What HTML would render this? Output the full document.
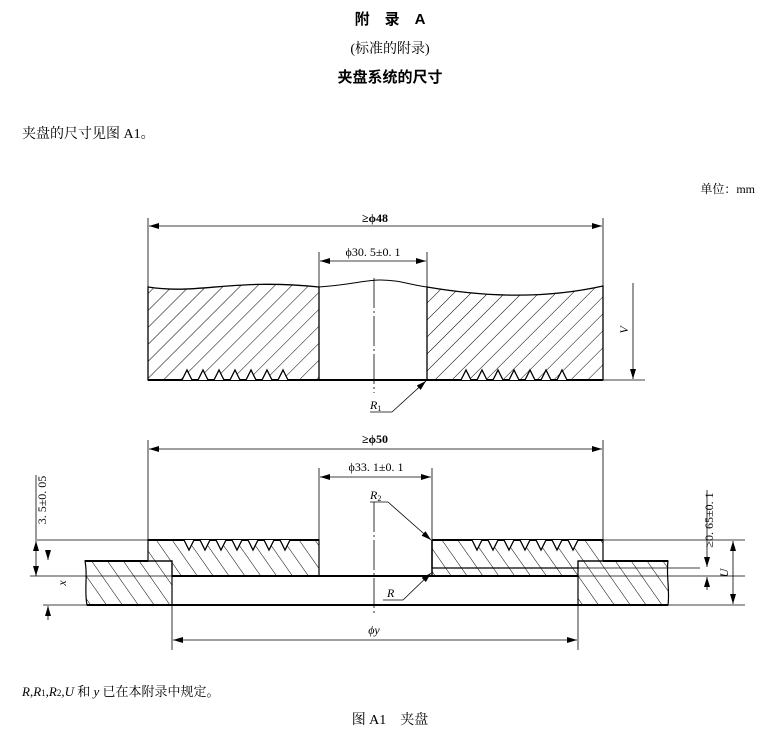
<!DOCTYPE html>
<html><head><meta charset="utf-8"><style>
body{margin:0;background:#fff;}
svg{display:block;}
.b{font-weight:bold}
</style></head><body>
<svg width="780" height="737" viewBox="0 0 780 737" xmlns="http://www.w3.org/2000/svg">
<defs>
<pattern id="h1" patternUnits="userSpaceOnUse" width="12" height="12" patternTransform="rotate(45)">
<line x1="0" y1="0" x2="0" y2="12" stroke="#000" stroke-width="1"/></pattern>
<pattern id="h2" patternUnits="userSpaceOnUse" width="13" height="13" patternTransform="rotate(-35)">
<line x1="0" y1="0" x2="0" y2="13" stroke="#000" stroke-width="1"/></pattern>
<marker id="a" viewBox="0 0 10 6" refX="10" refY="3" markerWidth="10" markerHeight="6" orient="auto-start-reverse" markerUnits="userSpaceOnUse"><path d="M0,0 L10,3 L0,6 z" fill="#000"/></marker>
</defs>
<g font-family="Liberation Serif,Noto Serif CJK SC,serif" fill="#000">
<text x="390" y="24" font-size="15" text-anchor="middle" class="b" font-family="Liberation Sans,Noto Sans CJK SC,sans-serif">附　录　A</text>
<text x="390" y="53" font-size="14" text-anchor="middle">(标准的附录)</text>
<text x="390" y="82" font-size="15" text-anchor="middle" class="b" font-family="Liberation Sans,Noto Sans CJK SC,sans-serif">夹盘系统的尺寸</text>
<text x="22" y="138" font-size="14">夹盘的尺寸见图 A1。</text>
<text x="755" y="193" font-size="12" text-anchor="end">单位：mm</text>
<text x="22" y="696" font-size="13"><tspan font-style="italic">R</tspan>,<tspan font-style="italic">R</tspan><tspan font-size="9">1</tspan>,<tspan font-style="italic">R</tspan><tspan font-size="9">2</tspan>,<tspan font-style="italic">U</tspan> 和 <tspan font-style="italic">y</tspan> 已在本附录中规定。</text>
<text x="390" y="724" font-size="14" text-anchor="middle">图 A1　夹盘</text>
</g>
<g stroke="#000" fill="none">
<!-- TOP FIGURE -->
<path d="M148,287 C200,295 230,278 319,287 L319,380 L148,380 Z" fill="url(#h1)" stroke-width="1.3"/>
<path d="M427,287 C480,296 540,300 603,286 L603,380 L427,380 Z" fill="url(#h1)" stroke-width="1.3"/>
<path d="M319,287 C350,285 365,280 380,280 C400,280 410,285 427,287" stroke-width="1"/>
<line x1="148" y1="380" x2="603" y2="380" stroke-width="2"/>
<line x1="603" y1="380" x2="645" y2="380" stroke-width="0.8"/>
<polyline points="182,380 187,370 192,380 198,380 203,370 208,380 214,380 219,370 224,380 230,380 235,370 240,380 246,380 251,370 256,380 262,380 267,370 272,380 278,380 283,370 288,380" fill="#fff" stroke-width="1.3"/>
<polyline points="461,380 466,370 471,380 477,380 482,370 487,380 493,380 498,370 503,380 509,380 514,370 519,380 525,380 530,370 535,380 541,380 546,370 551,380 557,380 562,370 567,380" fill="#fff" stroke-width="1.3"/>
<g stroke-width="0.8">
<line x1="148" y1="218" x2="148" y2="287"/><line x1="603" y1="218" x2="603" y2="286"/>
<line x1="149" y1="226" x2="602" y2="226" marker-start="url(#a)" marker-end="url(#a)"/>
<line x1="319" y1="252" x2="319" y2="287"/><line x1="427" y1="252" x2="427" y2="287"/>
<line x1="320" y1="261" x2="426" y2="261" marker-start="url(#a)" marker-end="url(#a)"/>
<line x1="374" y1="278" x2="374" y2="393" stroke-dasharray="30,3,2,3"/>
<line x1="633" y1="283" x2="633" y2="379" marker-end="url(#a)"/>
<line x1="370" y1="412" x2="392" y2="412"/><line x1="392" y1="412" x2="426" y2="381" marker-end="url(#a)"/>
</g>
<!-- BOTTOM FIGURE -->
<path d="M148,540 L319,540 L319,576 L172,576 L172,561 L148,561 Z" fill="url(#h2)" stroke-width="1.2"/>
<path d="M432,540 L603,540 L603,561 L578,561 L578,568 L432,568 Z" fill="url(#h2)" stroke-width="1.2"/>
<path d="M85,561 L172,561 L172,605 L87,605 C84,590 88,575 85,561 Z" fill="url(#h2)" stroke-width="1.2"/>
<path d="M578,561 L668,561 C666,575 670,590 668,605 L578,605 Z" fill="url(#h2)" stroke-width="1.2"/>
<path d="M432,568 L578,568 L578,576 L432,576 Z" fill="url(#h2)" stroke-width="1"/>
<line x1="148" y1="540" x2="319" y2="540" stroke-width="2"/><line x1="432" y1="540" x2="603" y2="540" stroke-width="2"/>
<line x1="85" y1="561" x2="148" y2="561" stroke-width="2"/><line x1="603" y1="561" x2="668" y2="561" stroke-width="2"/>
<line x1="172" y1="576" x2="578" y2="576" stroke-width="2"/>
<line x1="87" y1="605" x2="668" y2="605" stroke-width="2"/>
<line x1="432" y1="540" x2="432" y2="576" stroke-width="1.5"/>
<polyline points="184,540 189,550 194,540 200,540 205,550 210,540 216,540 221,550 226,540 232,540 237,550 242,540 248,540 253,550 258,540 264,540 269,550 274,540 280,540 285,550 290,540" fill="#fff" stroke-width="1.3"/>
<polyline points="472,540 477,550 482,540 488,540 493,550 498,540 504,540 509,550 514,540 520,540 525,550 530,540 536,540 541,550 546,540 552,540 557,550 562,540 568,540 573,550 578,540" fill="#fff" stroke-width="1.3"/>
<g stroke-width="0.8">
<line x1="35" y1="540" x2="148" y2="540"/><line x1="603" y1="540" x2="745" y2="540"/>
<line x1="30" y1="576" x2="172" y2="576"/><line x1="578" y1="576" x2="745" y2="576"/>
<line x1="578" y1="568" x2="700" y2="568"/>
<line x1="43" y1="605" x2="87" y2="605"/><line x1="668" y1="605" x2="745" y2="605"/>
<line x1="148" y1="440" x2="148" y2="540"/><line x1="603" y1="440" x2="603" y2="540"/>
<line x1="149" y1="449" x2="602" y2="449" marker-start="url(#a)" marker-end="url(#a)"/>
<line x1="319" y1="468" x2="319" y2="540"/><line x1="432" y1="468" x2="432" y2="540"/>
<line x1="320" y1="477" x2="431" y2="477" marker-start="url(#a)" marker-end="url(#a)"/>
<line x1="374" y1="502" x2="374" y2="616" stroke-dasharray="30,3,2,3"/>
<line x1="172" y1="605" x2="172" y2="650"/><line x1="578" y1="605" x2="578" y2="650"/>
<line x1="173" y1="640" x2="577" y2="640" marker-start="url(#a)" marker-end="url(#a)"/>
<line x1="36" y1="475" x2="36" y2="539"/><line x1="36" y1="541" x2="36" y2="576" marker-start="url(#a)" marker-end="url(#a)"/>
<line x1="48" y1="552" x2="48" y2="560" marker-end="url(#a)"/><line x1="48" y1="620" x2="48" y2="606" marker-end="url(#a)"/>
<line x1="707" y1="555" x2="707" y2="567" marker-end="url(#a)"/><line x1="707" y1="590" x2="707" y2="577" marker-end="url(#a)"/>
<line x1="707" y1="490" x2="707" y2="555"/>
<line x1="733" y1="541" x2="733" y2="604" marker-start="url(#a)" marker-end="url(#a)"/>
<line x1="370" y1="502" x2="388" y2="502"/><line x1="388" y1="502" x2="431" y2="540" marker-end="url(#a)"/>
<line x1="383" y1="600" x2="403" y2="600"/><line x1="403" y1="600" x2="431" y2="573" marker-end="url(#a)"/>
</g>
</g>
<g font-family="Liberation Serif,Noto Serif CJK SC,serif" font-size="12" fill="#000">
<text x="375" y="222" text-anchor="middle" class="b">≥ϕ48</text>
<text x="373" y="256" text-anchor="middle">ϕ30. 5±0. 1</text>
<text x="375" y="443" text-anchor="middle" class="b">≥ϕ50</text>
<text x="376" y="471" text-anchor="middle">ϕ33. 1±0. 1</text>
<text x="374" y="634" text-anchor="middle" font-style="italic">ϕy</text>
<text x="370" y="409" font-style="italic">R<tspan font-size="8" font-style="normal" dy="2">1</tspan></text>
<text x="370" y="499" font-style="italic">R<tspan font-size="8" font-style="normal" dy="2">2</tspan></text>
<text x="387" y="597" font-style="italic">R</text>
<text transform="translate(628,330) rotate(-90)" text-anchor="middle" font-style="italic">V</text>
<text transform="translate(728,573) rotate(-90)" text-anchor="middle" font-style="italic">U</text>
<text transform="translate(46,500) rotate(-90)" text-anchor="middle">3. 5±0. 05</text>
<text transform="translate(66,583) rotate(-90)" text-anchor="middle" font-style="italic">x</text>
<text transform="translate(713,520) rotate(-90)" text-anchor="middle">≥0. 65±0. 1</text>
</g>
</svg>
</body></html>
